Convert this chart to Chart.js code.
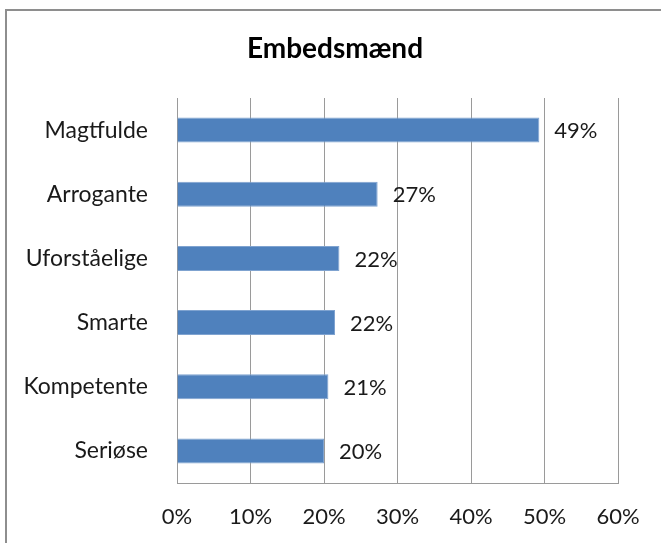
<!DOCTYPE html>
<html>
<head>
<meta charset="utf-8">
<script src="https://cdn.jsdelivr.net/npm/chart.js@4/dist/chart.umd.min.js"></script>
<style>
  html, body { margin: 0; padding: 0; background: #fff; }
  #wrap { width: 661px; height: 543px; position: relative; }
</style>
</head>
<body>
<div id="wrap"><canvas id="c" width="661" height="543"></canvas></div>
<script>
const title = "Embedsmænd";
const categories = ["Magtfulde", "Arrogante", "Uforståelige", "Smarte", "Kompetente", "Seriøse"];
const values = [49.3, 27.3, 22.1, 21.5, 20.6, 20.0];
const valueLabels = ["49%", "27%", "22%", "22%", "21%", "20%"];
const xTicks = [0, 10, 20, 30, 40, 50, 60];

const FONT = "Lato";
const gridColor = "#9a9a9a";
const textColor = "#1a1a1a";

const framePlugin = {
  id: "frame",
  beforeDraw(chart) {
    const ctx = chart.ctx;
    ctx.save();
    ctx.fillStyle = "#ffffff";
    ctx.fillRect(0, 0, chart.width, chart.height);
    ctx.strokeStyle = "#8e8e8e";
    ctx.lineWidth = 2;
    ctx.beginPath();
    ctx.moveTo(6, chart.height);
    ctx.lineTo(6, 10);
    ctx.lineTo(chart.width, 10);
    ctx.stroke();
    // title, centred on the framed area
    ctx.font = "bold 28px " + FONT;
    ctx.fillStyle = "#000";
    ctx.textAlign = "center";
    ctx.textBaseline = "alphabetic";
    ctx.fillText(title, 335, 58);
    ctx.restore();
  }
};

const labelPlugin = {
  id: "valueLabels",
  afterDatasetsDraw(chart) {
    const ctx = chart.ctx;
    const meta = chart.getDatasetMeta(0);
    ctx.save();
    ctx.font = "22px " + FONT;
    ctx.fillStyle = textColor;
    ctx.textAlign = "left";
    ctx.textBaseline = "middle";
    meta.data.forEach((bar, i) => {
      ctx.fillText(valueLabels[i], bar.x + 15, bar.y + 1);
    });
    ctx.restore();
  }
};

new Chart(document.getElementById("c"), {
  type: "bar",
  data: {
    labels: categories,
    datasets: [{
      data: values,
      backgroundColor: "#4f81bd",
      borderColor: "#7fa3d0",
      borderWidth: 1,
      borderSkipped: "start",
      barPercentage: 0.39,
      categoryPercentage: 1.0
    }]
  },
  options: {
    indexAxis: "y",
    responsive: false,
    animation: false,
    events: [],
    layout: { padding: { top: 98, left: 10, right: 43, bottom: 0 } },
    plugins: {
      legend: { display: false },
      tooltip: { enabled: false },
      title: { display: false }
    },
    scales: {
      x: {
        min: 0, max: 60,
        afterBuildTicks(scale) { scale.ticks = xTicks.map(v => ({ value: v })); },
        afterFit(scale) { scale.height = 60; },
        grid: { color: gridColor, drawTicks: false, lineWidth: 1 },
        border: { display: true, color: gridColor },
        ticks: {
          color: textColor,
          padding: 21,
          font: { family: FONT, size: 22 },
          callback: v => v + "%",
          maxRotation: 0
        }
      },
      y: {
        afterFit(scale) { scale.width = 167; },
        grid: { display: false, drawTicks: false },
        border: { display: true, color: gridColor },
        ticks: {
          color: textColor,
          padding: 29,
          font: { family: FONT, size: 23 }
        }
      }
    }
  },
  plugins: [framePlugin, labelPlugin]
});
</script>
</body>
</html>
